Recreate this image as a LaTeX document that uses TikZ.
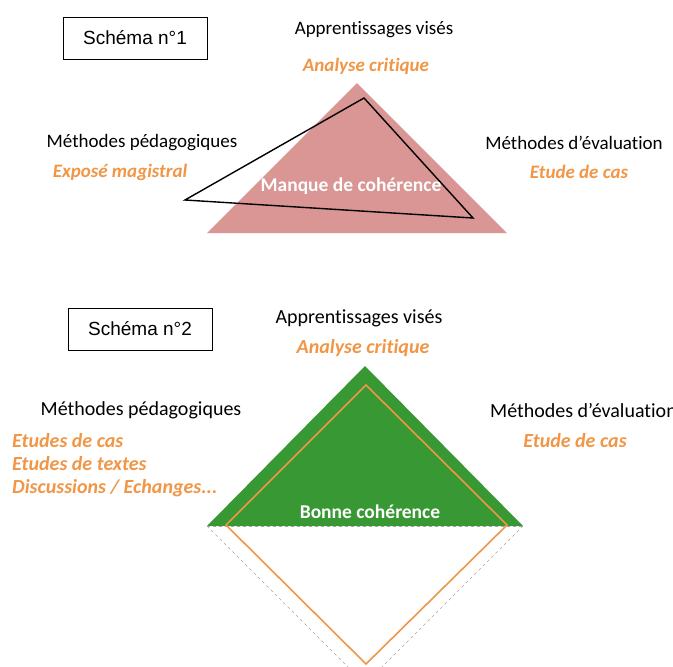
\documentclass[tikz,border=0pt]{standalone}
\usepackage{fontspec}
\setmainfont{Carlito}[Ligatures={NoCommon}]
\newfontfamily\arialf{Liberation Sans}
\definecolor{pinkfill}{RGB}{217,150,148}
\definecolor{greenfill}{RGB}{56,152,52}
\definecolor{orangetxt}{RGB}{240,150,70}
\definecolor{orangeline}{RGB}{240,150,70}
\begin{document}
\begin{tikzpicture}[x=1pt,y=-1pt,
  titlebox/.style={draw=black,line width=1pt,minimum width=144pt,minimum height=42pt,inner sep=0pt,font=\arialf\fontsize{19}{22}\selectfont},
  headtxt/.style={font=\fontsize{19}{22}\selectfont,inner sep=0pt},
  orgtxt/.style={font=\fontsize{19}{22}\selectfont\bfseries\itshape,text=orangetxt,inner sep=0pt},
  headtxtb/.style={font=\fontsize{20}{23}\selectfont,inner sep=0pt},
  orgtxtb/.style={font=\fontsize{20}{23}\selectfont\bfseries\itshape,text=orangetxt,inner sep=0pt},
  whitetxt/.style={font=\fontsize{19.5}{22}\selectfont\bfseries,text=white,inner sep=0pt},
  orgline/.style={draw=orangeline,line width=1.6pt},
  grayd/.style={draw=gray!70,dashed,line width=0.6pt}]
\useasboundingbox (0,0) rectangle (673,667);
% ---------- Schema 1 ----------
\node[titlebox] (t1) at (135,38) {Schéma n°1};
\node[headtxt] (a1) at (374,30) {Apprentissages visés};
\node[orgtxt] (ac1) at (366,66) {Analyse critique};
\coordinate (p1a) at (357,83);
\coordinate (p1l) at (207,233);
\coordinate (p1r) at (507,233);
\fill[pinkfill] (p1a) -- (p1l) -- (p1r) -- cycle;
\coordinate (b1a) at (364,98);
\coordinate (b1l) at (185,200);
\coordinate (b1r) at (473,218);
\draw[black,line width=1.4pt,line join=miter] (b1a) -- (b1l) -- (b1r) -- cycle;
\node[headtxt] (mp1) at (142,143) {Méthodes pédagogiques};
\node[orgtxt] (em1) at (120,172) {Exposé magistral};
\node[headtxt] (me1) at (574,143) {Méthodes d’évaluation};
\node[orgtxt] (ec1) at (579,172) {Etude de cas};
\node[whitetxt] (mc1) at (351,186) {Manque de cohérence};
% ---------- Schema 2 ----------
\node[titlebox] (t2) at (140,329) {Schéma n°2};
\node[headtxtb] (a2) at (359,318) {Apprentissages visés};
\node[orgtxtb] (ac2) at (363,348) {Analyse critique};
\coordinate (g2a) at (365,366);
\coordinate (g2l) at (207,526);
\coordinate (g2r) at (523,526);
\coordinate (g2b) at (365,684);
\fill[greenfill] (g2a) -- (g2l) -- (g2r) -- cycle;
\draw[grayd] (g2l) -- (g2b) -- (g2r);
\draw[grayd] (g2l) -- (g2r);
\coordinate (o2a) at (366,385);
\coordinate (o2l) at (226,525);
\coordinate (o2r) at (507,525);
\coordinate (o2b) at (366,664);
\draw[orgline] (o2l) -- (o2a) -- (o2r) -- (o2b) -- cycle;
\node[headtxtb] (mp2) at (141,410) {Méthodes pédagogiques};
\node[orgtxtb,anchor=west] (ed1) at (12,441) {Etudes de cas};
\node[orgtxtb,anchor=west] (ed2) at (12,464) {Etudes de textes};
\node[orgtxtb,anchor=west] (ed3) at (12,488) {Discussions / Echanges...};
\node[headtxtb,anchor=west] (me2) at (490,411) {Méthodes d’évaluation};
\node[orgtxtb] (ec2) at (575,441) {Etude de cas};
\node[whitetxt] (bc2) at (370,512) {Bonne cohérence};
\end{tikzpicture}
\end{document}
